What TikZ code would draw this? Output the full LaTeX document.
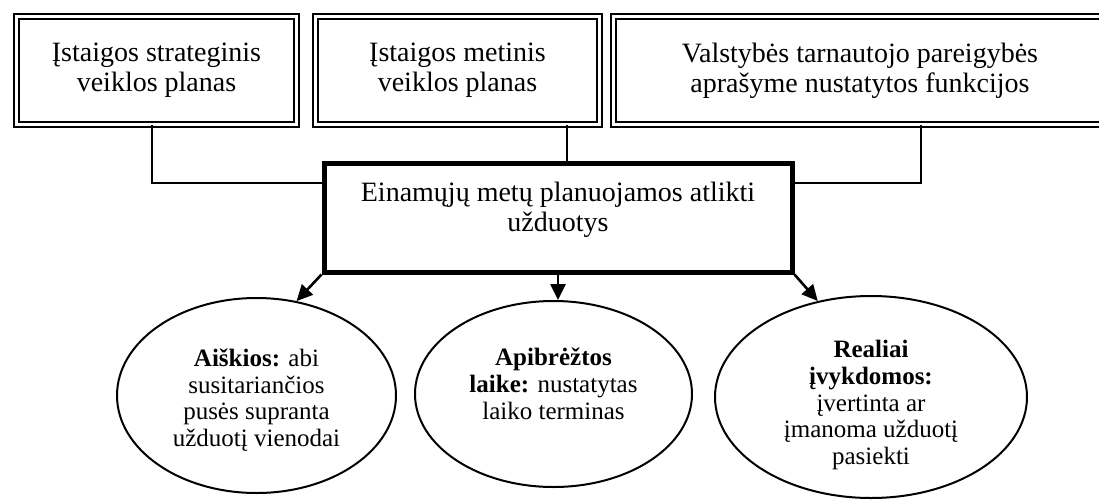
\documentclass[tikz,border=0pt]{standalone}
\usepackage{fontspec}
\setmainfont{Liberation Serif}
\usetikzlibrary{arrows.meta,shapes.geometric}

\begin{document}
\begin{tikzpicture}[x=0.5pt,y=-0.5pt,
  sourcebox/.style={draw,double,line width=0.8pt,double distance=1.8pt,inner sep=0pt,align=center,font=\fontsize{14}{15}\selectfont},
  taskbox/.style={draw,line width=2.5pt,inner sep=0pt},
  goal/.style={draw,ellipse,line width=1pt,inner sep=0pt},
  goaltext/.style={align=center,inner sep=0pt,font=\fontsize{12.5}{13.35}\selectfont},
  link/.style={line width=0.75pt},
  pointer/.style={line width=1.3pt,-{Triangle[length=8pt,width=7.5pt]}}]
\useasboundingbox (0,0) rectangle (1099,499);
\clip (0,0) rectangle (1099,499);
% sources of the tasks
\node[sourcebox,minimum width=140.1pt,minimum height=54.1pt] (plan) at (156.5,70.5) {Įstaigos strateginis\\veiklos planas};
\node[sourcebox,minimum width=142.1pt,minimum height=54.1pt] (yearplan) at (457.5,70.5) {Įstaigos metinis\\veiklos planas};
\node[sourcebox,minimum width=246.6pt,minimum height=54.1pt] (duties) at (860,70.5) {Valstybės tarnautojo pareigybės\\aprašyme nustatytos funkcijos};
% tasks of the year
\node[taskbox,minimum width=234pt,minimum height=54.3pt] (task) at (558,217.7) {};
\node[align=center,inner sep=0pt,font=\fontsize{14}{15}\selectfont] (tasktext) at (558,210) {Einamųjų metų planuojamos atlikti\\užduotys};
% properties
\node[goal,minimum width=139.5pt,minimum height=97.5pt] (clear) at (256.5,395.5) {};
\node[goaltext] (cleartext) at (256.5,400) {\textbf{Aiškios:} abi\\susitariančios\\pusės supranta\\užduotį vienodai};
\node[goal,minimum width=138.5pt,minimum height=93pt] (timed) at (553.5,394) {};
\node[goaltext] (timedtext) at (553.5,384) {\textbf{Apibrėžtos}\\\textbf{laike:} nustatytas\\laiko terminas};
\node[goal,minimum width=156pt,minimum height=101pt] (real) at (871,397) {};
\node[goaltext] (realtext) at (871,405) {\textbf{Realiai}\\\textbf{įvykdomos:}\\įvertinta ar\\įmanoma užduotį\\pasiekti};
% connectors
\coordinate (j1) at (152,183);
\coordinate (j2) at (567,150);
\coordinate (j3) at (921,183);
\draw[link] (plan.south -| j1) -- (j1) -- (task.west |- j1);
\draw[link] (yearplan.south -| j2) -- (task.north -| j2);
\draw[link] (duties.south -| j3) -- (j3) -- (task.east |- j3);
\draw[pointer] (task.south west) -- (clear.67);
\draw[pointer] (task.south) -- (task.south |- timed.north);
\draw[pointer] (task.south east) -- (real.119);
\end{tikzpicture}
\end{document}
